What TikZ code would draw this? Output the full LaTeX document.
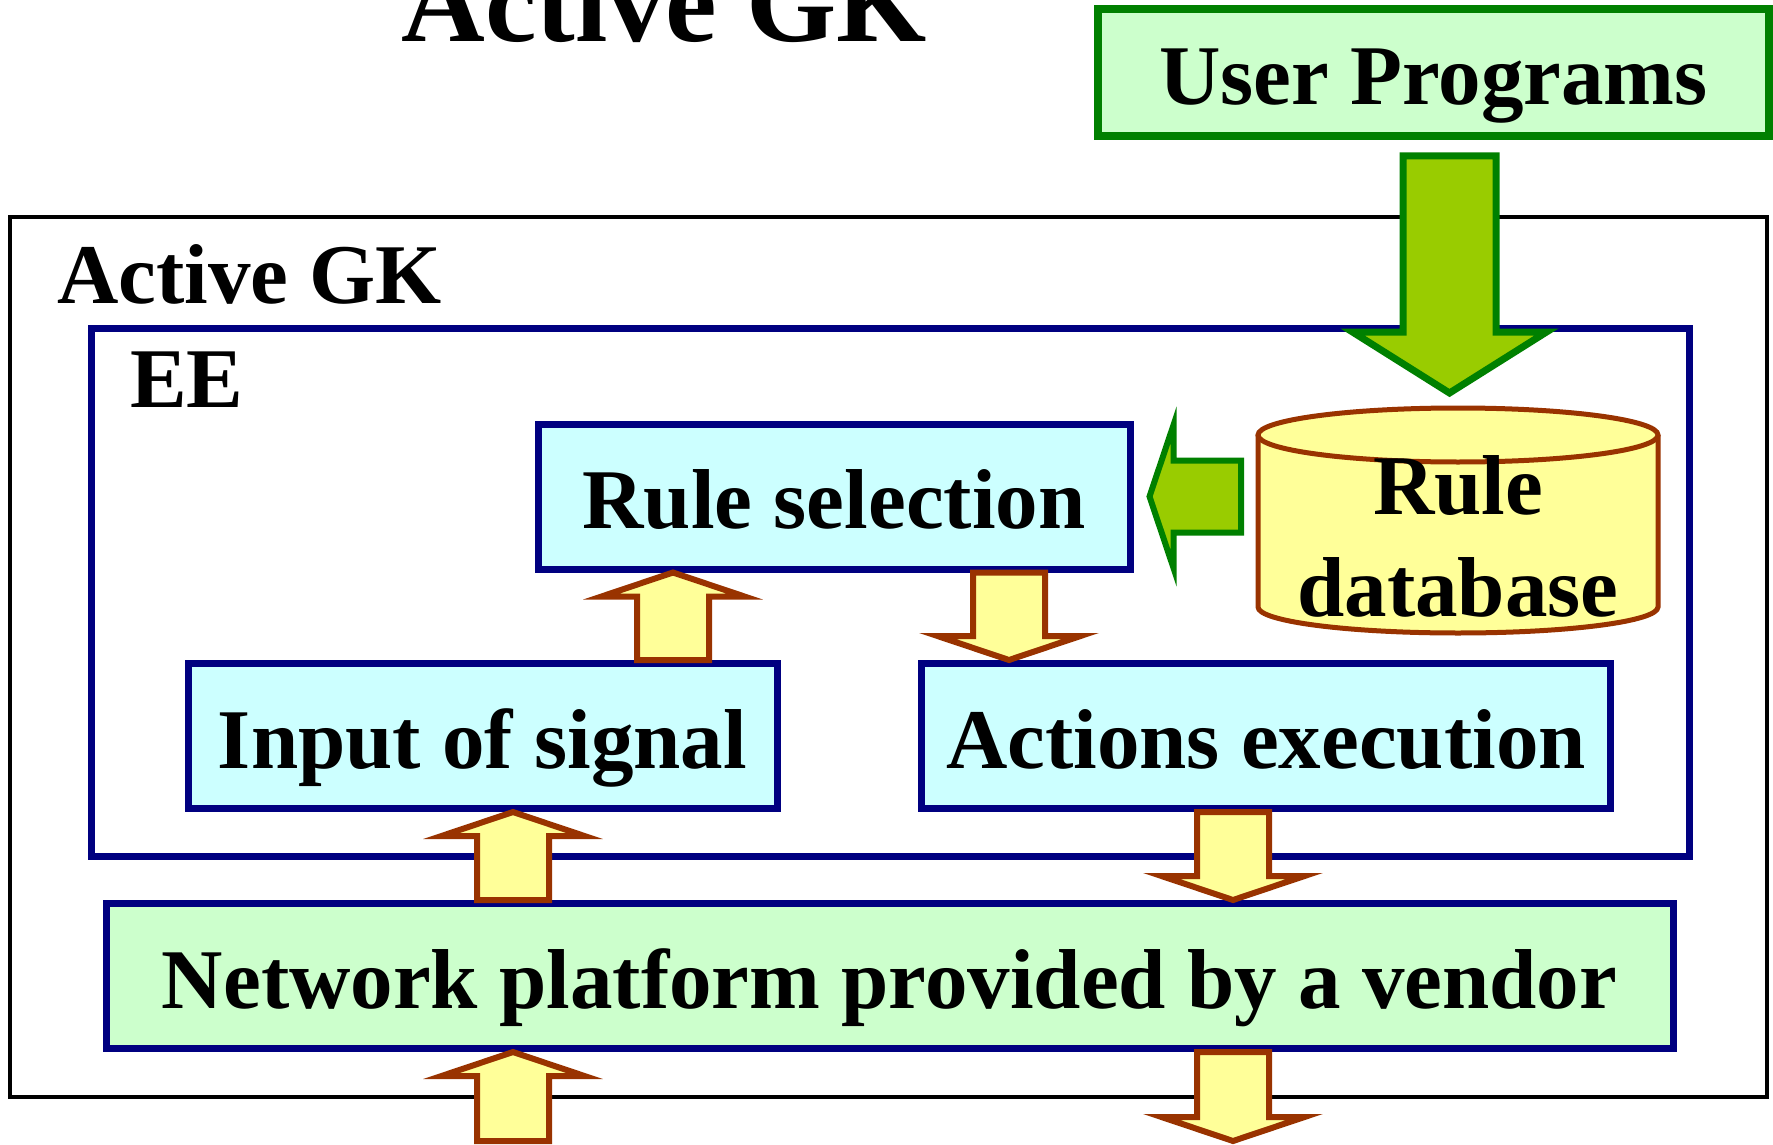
\documentclass[tikz,border=0pt]{standalone}
\usepackage{fontspec}
\setmainfont{Liberation Serif}
\usetikzlibrary{calc}

\definecolor{navy}{HTML}{000080}
\definecolor{lcyan}{HTML}{CCFFFF}
\definecolor{lgreen}{HTML}{CCFFCC}
\definecolor{dgreen}{HTML}{008000}
\definecolor{agreen}{HTML}{99CC00}
\definecolor{lyellow}{HTML}{FFFF99}
\definecolor{rust}{HTML}{993300}

% block arrow from one named point to another
% #1 style, #2 start, #3 tip, #4 shaft width, #5 head width, #6 head length
\newcommand\blockarr[6]{%
  \draw[#1] let \p1=(#2), \p2=(#3),
        \n1={veclen(\x2-\x1,\y2-\y1)},
        \n2={(\x2-\x1)/\n1}, \n3={(\y2-\y1)/\n1},
        \n4={\n1-#6}
    in
    ({\x1-\n3*#4/2}, {\y1+\n2*#4/2})
    -- ({\x1+\n2*\n4-\n3*#4/2}, {\y1+\n3*\n4+\n2*#4/2})
    -- ({\x1+\n2*\n4-\n3*#5/2}, {\y1+\n3*\n4+\n2*#5/2})
    -- (\x2,\y2)
    -- ({\x1+\n2*\n4+\n3*#5/2}, {\y1+\n3*\n4-\n2*#5/2})
    -- ({\x1+\n2*\n4+\n3*#4/2}, {\y1+\n3*\n4-\n2*#4/2})
    -- ({\x1+\n3*#4/2}, {\y1-\n2*#4/2})
    -- cycle;}

\tikzset{
  yarrow/.style={draw=rust, fill=lyellow, line width=6pt},
  garrow/.style={draw=dgreen, fill=agreen, line width=6pt},
  bigarrow/.style={draw=dgreen, fill=agreen, line width=7pt},
  box/.style={draw=navy, line width=7pt, fill=lcyan, inner sep=0pt,
              text height=64pt, text depth=0pt, minimum height=145pt},
  greenbox/.style={box, fill=lgreen},
  label/.style={inner sep=0pt},
}

\begin{document}
\begin{tikzpicture}[x=1pt, y=-1pt, font=\fontsize{85}{102}\selectfont\bfseries]
\useasboundingbox (0,0) rectangle (1773,1145);
\clip (0,0) rectangle (1773,1145);

% heading above everything
\node[label, anchor=base, font=\fontsize{116}{120}\selectfont\bfseries] (title) at (664,42) {Active GK};

% user programs on top
\node[box, draw=dgreen, line width=8pt, fill=lgreen, minimum width=671pt, minimum height=127pt]
  (upbox) at (1433.5,72.5) {User Programs};

% outer Active GK frame
\node[draw=black, line width=4pt, inner sep=0pt, minimum width=1757pt, minimum height=880pt]
  (gk) at (888.5,656.5) {};
\node[label, anchor=base west] (gklabel) at (57,303) {Active GK};

% execution environment
\node[draw=navy, line width=7pt, inner sep=0pt, minimum width=1598pt, minimum height=528pt]
  (ee) at (890,592.5) {};
\node[label, anchor=base west] (eelabel) at (130,407) {EE};

% functional blocks
\node[box, minimum width=592pt] (rulesel) at (834,496.5) {Rule selection};
\node[box, minimum width=589pt] (insig) at (482.5,736) {Input of signal};
\node[box, minimum width=688.5pt] (actions) at (1266,736) {Actions execution};
\node[greenbox, minimum width=1567pt] (net) at (889.5,976) {Network platform provided by a vendor};

% rule database cylinder
\filldraw[draw=rust, fill=lyellow, line width=5pt]
  (1658,435) -- (1658,607) arc[start angle=0, end angle=-180, x radius=200pt, y radius=26pt] -- (1258,435);
\filldraw[draw=rust, fill=lyellow, line width=5pt] (1458,435) ellipse[x radius=200pt, y radius=27pt];
\node[label, align=center] (ruledb) at (1458,536) {Rule\\database};

% arrow columns
\coordinate (xa) at (673,0);
\coordinate (xb) at (1009,0);
\coordinate (xc) at (513,0);
\coordinate (xd) at (1233,0);
\coordinate (xg) at (1449.5,0);

% arrow end points on the block borders
\coordinate (upout)   at ([yshift=-16pt]upbox.south -| xg);
\coordinate (dbtop)   at (1449.5,393);
\coordinate (dbwest)  at (1241,496.5);
\coordinate (selin)   at ([xshift=16pt]rulesel.east);
\coordinate (sigup)   at (insig.north -| xa);
\coordinate (selup)   at (rulesel.south -| xa);
\coordinate (seldown) at (rulesel.south -| xb);
\coordinate (actin)   at (actions.north -| xb);
\coordinate (netup)   at (net.north -| xc);
\coordinate (sigin)   at (insig.south -| xc);
\coordinate (actout)  at (actions.south -| xd);
\coordinate (netin)   at (net.north -| xd);
\coordinate (inlet)   at (513,1141);
\coordinate (netbin)  at (net.south -| xc);
\coordinate (netbout) at (net.south -| xd);
\coordinate (outlet)  at (1233,1141);

% green arrows feeding the rules
\blockarr{bigarrow}{upout}{dbtop}{93}{194}{61}
\blockarr{garrow}{dbwest}{selin}{72}{143}{24}

% signal flow
\blockarr{yarrow}{sigup}{selup}{72}{143}{24}
\blockarr{yarrow}{seldown}{actin}{72}{143}{24}
\blockarr{yarrow}{netup}{sigin}{72}{143}{24}
\blockarr{yarrow}{actout}{netin}{72}{143}{24}
\blockarr{yarrow}{inlet}{netbin}{72}{143}{24}
\blockarr{yarrow}{netbout}{outlet}{72}{143}{24}
\end{tikzpicture}
\end{document}
